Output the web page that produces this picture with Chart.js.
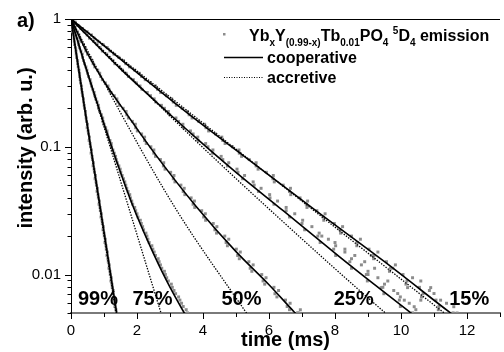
<!DOCTYPE html>
<html><head><meta charset="utf-8">
<script src="https://cdn.jsdelivr.net/npm/chart.js@4.4.1/dist/chart.umd.min.js"></script>
<style>html,body{margin:0;padding:0;background:#fff}#wrap{width:504px;height:352px;position:relative}</style>
</head><body><div id="wrap"><canvas id="c"></canvas></div>
<script>
const FONT = '"Liberation Sans", Arial, Helvetica, sans-serif';

// ---- tick values / labels ----
const xMajorTicks = [0, 2, 4, 6, 8, 10, 12];
const xMinorTicks = [1, 3, 5, 7, 9, 11, 13];
const xTickLabels = ['0', '2', '4', '6', '8', '10', '12'];
const yMajorTicks = [0.01, 0.1, 1];
const yTickLabels = ['0.01', '0.1', '1'];
const yMinorTicks = [0.005, 0.006, 0.007, 0.008, 0.009, 0.02, 0.03, 0.04, 0.05, 0.06, 0.07, 0.08, 0.09,
                     0.2, 0.3, 0.4, 0.5, 0.6, 0.7, 0.8, 0.9];

// ---- measured data: intensity levels and the times where each sample reaches them ----
const levels = [1, 0.891, 0.794, 0.708, 0.631, 0.562, 0.501, 0.447, 0.398, 0.355,
  0.316, 0.282, 0.251, 0.224, 0.200, 0.178, 0.158, 0.141, 0.126, 0.112,
  0.100, 0.0891, 0.0794, 0.0708, 0.0631, 0.0562, 0.0501, 0.0447, 0.0398, 0.0355,
  0.0316, 0.0282, 0.0251, 0.0224, 0.0200, 0.0178, 0.0158, 0.0141, 0.0126, 0.0112,
  0.0100, 0.00891, 0.00794, 0.00708, 0.00631, 0.00562, 0.00501];
const levelsMid = [0.944, 0.841, 0.750, 0.668, 0.596, 0.531, 0.473, 0.422, 0.376, 0.335,
  0.299, 0.266, 0.237, 0.211, 0.189, 0.168, 0.150, 0.133, 0.119, 0.106,
  0.0944, 0.0841, 0.0750, 0.0668, 0.0596, 0.0531, 0.0473, 0.0422, 0.0376, 0.0335,
  0.0299, 0.0266, 0.0237, 0.0211, 0.0189, 0.0168, 0.0150, 0.0133, 0.0119, 0.0106,
  0.00944, 0.00841, 0.00750, 0.00668, 0.00596, 0.00531];

const t99a = [0,0.03,0.05,0.09,0.11,0.15,0.17,0.20,0.24,0.26,0.29,0.32,0.35,0.38,0.41,0.44,0.47,0.49,0.53,0.55,0.59,0.61,0.65,0.67,0.71,0.73,0.77,0.79,0.83,0.85,0.89,0.91,0.95,0.97,1.01,1.03,1.07,1.09,1.13,1.15,1.19,1.21,1.25,1.27,1.31,1.33,1.37];
const t99b = [0.02,0.04,0.08,0.10,0.14,0.16,0.20,0.22,0.26,0.28,0.32,0.34,0.38,0.40,0.44,0.46,0.50,0.52,0.56,0.58,0.62,0.64,0.68,0.70,0.74,0.76,0.80,0.82,0.86,0.88,0.92,0.94,0.98,1.00,1.04,1.06,1.10,1.12,1.16,1.18,1.22,1.24,1.28,1.30,1.34,1.36];
const t75a = [0,0.06,0.11,0.18,0.23,0.30,0.35,0.41,0.48,0.53,0.60,0.66,0.72,0.79,0.84,0.92,0.97,1.05,1.10,1.18,1.23,1.31,1.37,1.45,1.51,1.59,1.66,1.73,1.80,1.87,1.96,2.03,2.13,2.20,2.30,2.37,2.48,2.56,2.67,2.75,2.86,2.95,3.07,3.17,3.30,3.40,3.53];
const t75b = [0.03,0.10,0.14,0.22,0.26,0.34,0.38,0.45,0.50,0.58,0.62,0.70,0.75,0.83,0.87,0.96,1.00,1.09,1.13,1.22,1.27,1.35,1.40,1.49,1.55,1.63,1.69,1.78,1.84,1.93,2.00,2.10,2.17,2.27,2.33,2.45,2.52,2.64,2.71,2.83,2.90,3.04,3.12,3.26,3.35,3.49];
const t50a = [0,0.08,0.19,0.27,0.38,0.45,0.58,0.67,0.81,0.90,1.04,1.15,1.31,1.42,1.58,1.69,1.86,1.96,2.14,2.23,2.42,2.51,2.71,2.80,3.02,3.10,3.33,3.40,3.64,3.70,3.96,4.02,4.31,4.36,4.66,4.70,5.01,5.05,5.39,5.43,5.78,5.82,6.15,6.18,6.50,6.55,6.86];
const t50b = [0.05,0.13,0.24,0.31,0.43,0.50,0.64,0.72,0.87,0.95,1.12,1.21,1.39,1.47,1.67,1.74,1.95,2.01,2.23,2.28,2.51,2.56,2.81,2.85,3.12,3.15,3.43,3.45,3.74,3.75,4.07,4.08,4.42,4.41,4.78,4.74,5.13,5.10,5.52,5.48,5.91,5.87,6.29,6.24,6.64,6.62];
const t25a = [0,0.18,0.40,0.56,0.79,0.95,1.17,1.33,1.56,1.74,1.98,2.15,2.41,2.57,2.83,2.99,3.26,3.41,3.70,3.85,4.15,4.29,4.60,4.74,5.06,5.20,5.55,5.68,6.03,6.15,6.52,6.62,7.00,7.08,7.48,7.55,7.96,8.02,8.45,8.50,8.95,8.98,9.45,9.48,9.95,9.98,10.35];
const t25b = [0.10,0.30,0.49,0.69,0.88,1.08,1.27,1.47,1.67,1.89,2.09,2.31,2.52,2.74,2.95,3.18,3.39,3.62,3.84,4.08,4.30,4.55,4.78,5.03,5.26,5.52,5.76,6.02,6.26,6.52,6.78,7.02,7.30,7.52,7.80,8.02,8.30,8.50,8.80,9.00,9.30,9.50,9.78,9.98,10.25,10.45];
const t15a = [0,0.22,0.49,0.70,0.97,1.18,1.45,1.66,1.93,2.14,2.41,2.62,2.89,3.10,3.37,3.58,3.87,4.09,4.38,4.60,4.89,5.10,5.40,5.61,5.92,6.12,6.43,6.62,6.94,7.13,7.45,7.64,7.98,8.15,8.50,8.67,9.03,9.18,9.56,9.68,10.06,10.18,10.56,10.67,11.06,11.15,11.58];
const t15b = [0.13,0.35,0.62,0.82,1.10,1.30,1.59,1.77,2.07,2.25,2.56,2.72,3.05,3.19,3.53,3.67,4.05,4.17,4.57,4.67,5.09,5.17,5.61,5.67,6.13,6.16,6.65,6.66,7.17,7.15,7.70,7.66,8.23,8.17,8.77,8.66,9.30,9.17,9.83,9.65,10.35,10.15,10.86,10.62,11.38,11.13];
// scattered low-intensity samples
const extraT = [8.6, 8.9, 9.2, 9.0, 9.6, 9.4, 9.9, 10.1, 10.4, 8.0, 7.6, 8.3, 9.75, 10.2, 9.1, 10.9, 11.2, 11.6, 11.7, 10.6, 11.0, 10.6, 6.9, 6.95];
const extraI = [0.0141, 0.0126, 0.0112, 0.0100, 0.0089, 0.0079, 0.0071, 0.0063, 0.0056, 0.0178, 0.0200, 0.0158, 0.0112, 0.0079, 0.0141, 0.0079, 0.0063, 0.0056, 0.0050, 0.0089, 0.0071, 0.0063, 0.0050, 0.0053];

// ---- model curves ----
const coopT99 = [0, 0.42, 0.92, 1.38, 1.45];
const coopI99 = [1, 0.195, 0.0295, 0.00507, 0.00389];
const accrT99 = [0, 1.36, 1.43];
const accrI99 = [1, 0.00507, 0.00389];
const coopT75 = [0, 0.4, 0.87, 1.35, 1.87, 2.4, 2.9, 3.42, 3.55];
const coopI75 = [1, 0.457, 0.191, 0.0813, 0.0347, 0.0166, 0.00891, 0.00507, 0.00447];
const accrT75 = [0, 2.72, 2.85];
const accrI75 = [1, 0.00507, 0.00394];
const coopT50 = [0, 0.5, 1.0, 1.62, 2.5, 3.8, 5.0, 6.0, 6.77, 6.9];
const coopI50 = [1, 0.537, 0.324, 0.191, 0.0912, 0.0339, 0.0151, 0.00832, 0.00507, 0.00468];
const accrT50 = [0, 1.47, 3.2, 5.3, 5.5];
const accrI50 = [1, 0.191, 0.0319, 0.00507, 0.00427];
const coopT25 = [0, 1.5, 2.97, 3.72, 5.0, 6.43, 8.13, 9.2, 10.27, 10.5];
const coopI25 = [1, 0.407, 0.182, 0.1216, 0.0631, 0.0316, 0.0138, 0.00832, 0.00507, 0.00457];
const accrT25 = [0, 3.72, 6.04, 9.5, 9.8];
const accrI25 = [1, 0.1153, 0.0319, 0.00507, 0.00437];
const coopT15 = [0, 3.57, 5.38, 7.42, 9.5, 11.47, 11.7];
const coopI15 = [1, 0.180, 0.0794, 0.0316, 0.0126, 0.00507, 0.00457];
const accrT15 = [0, 11.28, 11.6];
const accrI15 = [1, 0.00507, 0.00437];

// ---- texts ----
const concLabels = ['99%', '75%', '50%', '25%', '15%'];
const concLabelTimes = [0.21, 1.86, 4.56, 7.96, 11.46];
const legendFormula = [['Yb',''],['x','sub'],['Y',''],['(0.99-x)','sub'],['Tb',''],['0.01','sub'],['PO',''],['4','sub'],[' ',''],['5','sup'],['D',''],['4','sub'],[' emission','']];
const legendCoop = 'cooperative';
const legendAccr = 'accretive';
const xTitle = 'time (ms)';
const yTitle = 'intensity (arb. u.)';
const panelLabel = 'a)';

function pts(ts, is) { return ts.map((t, i) => ({x: t, y: is[i]})); }

const GRAY = '#8c8c8c';
function dataSet(label, arr) {
  return {label, data: arr, showLine: false, pointStyle: 'rect', pointRadius: 2.1,
    pointBackgroundColor: GRAY, pointBorderWidth: 0, order: 2};
}
function lineSet(label, ts, is, dotted) {
  return {label, data: pts(ts, is), showLine: true, pointRadius: 0, borderColor: '#000',
    borderWidth: dotted ? 1.3 : 1.6, borderDash: dotted ? [1.4, 1.4] : [],
    cubicInterpolationMode: 'monotone', order: 1, fill: false};
}

const datasets = [
  dataSet('99% data', pts(t99a, levels).concat(pts(t99b, levelsMid))),
  dataSet('75% data', pts(t75a, levels).concat(pts(t75b, levelsMid))),
  dataSet('50% data', pts(t50a, levels).concat(pts(t50b, levelsMid))),
  dataSet('25% data', pts(t25a, levels).concat(pts(t25b, levelsMid))),
  dataSet('15% data', pts(t15a, levels).concat(pts(t15b, levelsMid))),
  dataSet('scatter', pts(extraT, extraI)),
  lineSet('99% cooperative', coopT99, coopI99, false),
  lineSet('75% cooperative', coopT75, coopI75, false),
  lineSet('50% cooperative', coopT50, coopI50, false),
  lineSet('25% cooperative', coopT25, coopI25, false),
  lineSet('15% cooperative', coopT15, coopI15, false),
  lineSet('99% accretive', accrT99, accrI99, true),
  lineSet('75% accretive', accrT75, accrI75, true),
  lineSet('50% accretive', accrT50, accrI50, true),
  lineSet('25% accretive', accrT25, accrI25, true),
  lineSet('15% accretive', accrT15, accrI15, true)
];

const decor = {
  id: 'decor',
  afterDraw(chart) {
    const ctx = chart.ctx, a = chart.chartArea, xs = chart.scales.x, ys = chart.scales.y;
    ctx.save();
    ctx.strokeStyle = '#000'; ctx.lineWidth = 1;
    const ln = (x1, y1, x2, y2) => { ctx.beginPath(); ctx.moveTo(x1, y1); ctx.lineTo(x2, y2); ctx.stroke(); };
    // top frame
    ln(a.left, Math.round(a.top) + 0.5, a.right, Math.round(a.top) + 0.5);
    // ticks
    xMajorTicks.forEach(v => { const p = Math.round(xs.getPixelForValue(v)) + 0.5; ln(p, a.bottom, p, a.bottom + 6); });
    xMinorTicks.forEach(v => { const p = Math.round(xs.getPixelForValue(v)) + 0.5; ln(p, a.bottom, p, a.bottom + 4); });
    yMajorTicks.forEach(v => { const p = Math.round(ys.getPixelForValue(v)) + 0.5; ln(a.left - 6, p, a.left, p); });
    yMinorTicks.forEach(v => { const p = Math.round(ys.getPixelForValue(v)) + 0.5; ln(a.left - 3.5, p, a.left, p); });

    ctx.fillStyle = '#000';
    ctx.textBaseline = 'alphabetic';
    // panel label
    ctx.font = 'bold 20px ' + FONT; ctx.textAlign = 'left';
    ctx.fillText(panelLabel, 17, 27);
    // concentration labels
    concLabels.forEach((s, i) => ctx.fillText(s, xs.getPixelForValue(concLabelTimes[i]), a.bottom - 8));
    // axis titles
    ctx.textAlign = 'center';
    ctx.fillText(xTitle, (a.left + a.right) / 2, 346);
    ctx.save(); ctx.translate(32, 148); ctx.rotate(-Math.PI / 2);
    ctx.fillText(yTitle, 0, 0); ctx.restore();

    // legend
    ctx.textAlign = 'left';
    ctx.fillStyle = GRAY; ctx.fillRect(223, 33, 2.5, 2.5);
    ctx.fillStyle = '#000';
    let x = 249; const yb = 41;
    legendFormula.forEach(([s, k]) => {
      ctx.font = (k ? 'bold 10px ' : 'bold 16px ') + FONT;
      const dy = k === 'sub' ? 5 : (k === 'sup' ? -7 : 0);
      ctx.fillText(s, x, yb + dy);
      x += ctx.measureText(s).width;
    });
    ctx.font = 'bold 16px ' + FONT;
    ctx.fillText(legendCoop, 267, 63);
    ctx.fillText(legendAccr, 267, 83);
    ctx.lineWidth = 1.3; ln(224, 57.5, 263, 57.5);
    ctx.lineWidth = 1; ctx.setLineDash([1, 1.5]); ln(224, 77.5, 263, 77.5);
    ctx.restore();
  }
};

Chart.defaults.font.family = FONT;
new Chart(document.getElementById('c'), {
  type: 'scatter',
  data: {datasets},
  options: {
    responsive: true, maintainAspectRatio: false, animation: false,
    layout: {padding: {top: 17, right: 0, left: 0, bottom: 0}},
    plugins: {legend: {display: false}, tooltip: {enabled: false}},
    scales: {
      x: {
        type: 'linear', min: 0, max: 13,
        afterBuildTicks: s => { s.ticks = xMajorTicks.map(v => ({value: v})); },
        afterFit: s => { s.height = 39; },
        grid: {display: false, drawTicks: false},
        border: {display: true, color: '#7a7a7a', width: 2},
        ticks: {autoSkip: false, maxRotation: 0, padding: 9, color: '#000', font: {size: 15},
          callback: (v, i) => xTickLabels[i]}
      },
      y: {
        type: 'logarithmic', min: 0.005, max: 1,
        afterBuildTicks: s => { s.ticks = yMajorTicks.map(v => ({value: v})); },
        afterFit: s => { s.width = 71; },
        grid: {display: false, drawTicks: false},
        border: {display: true, color: '#000', width: 1},
        ticks: {autoSkip: false, padding: 10, color: '#000', font: {size: 15},
          callback: (v, i) => yTickLabels[i]}
      }
    }
  },
  plugins: [decor]
});
</script></body></html>
